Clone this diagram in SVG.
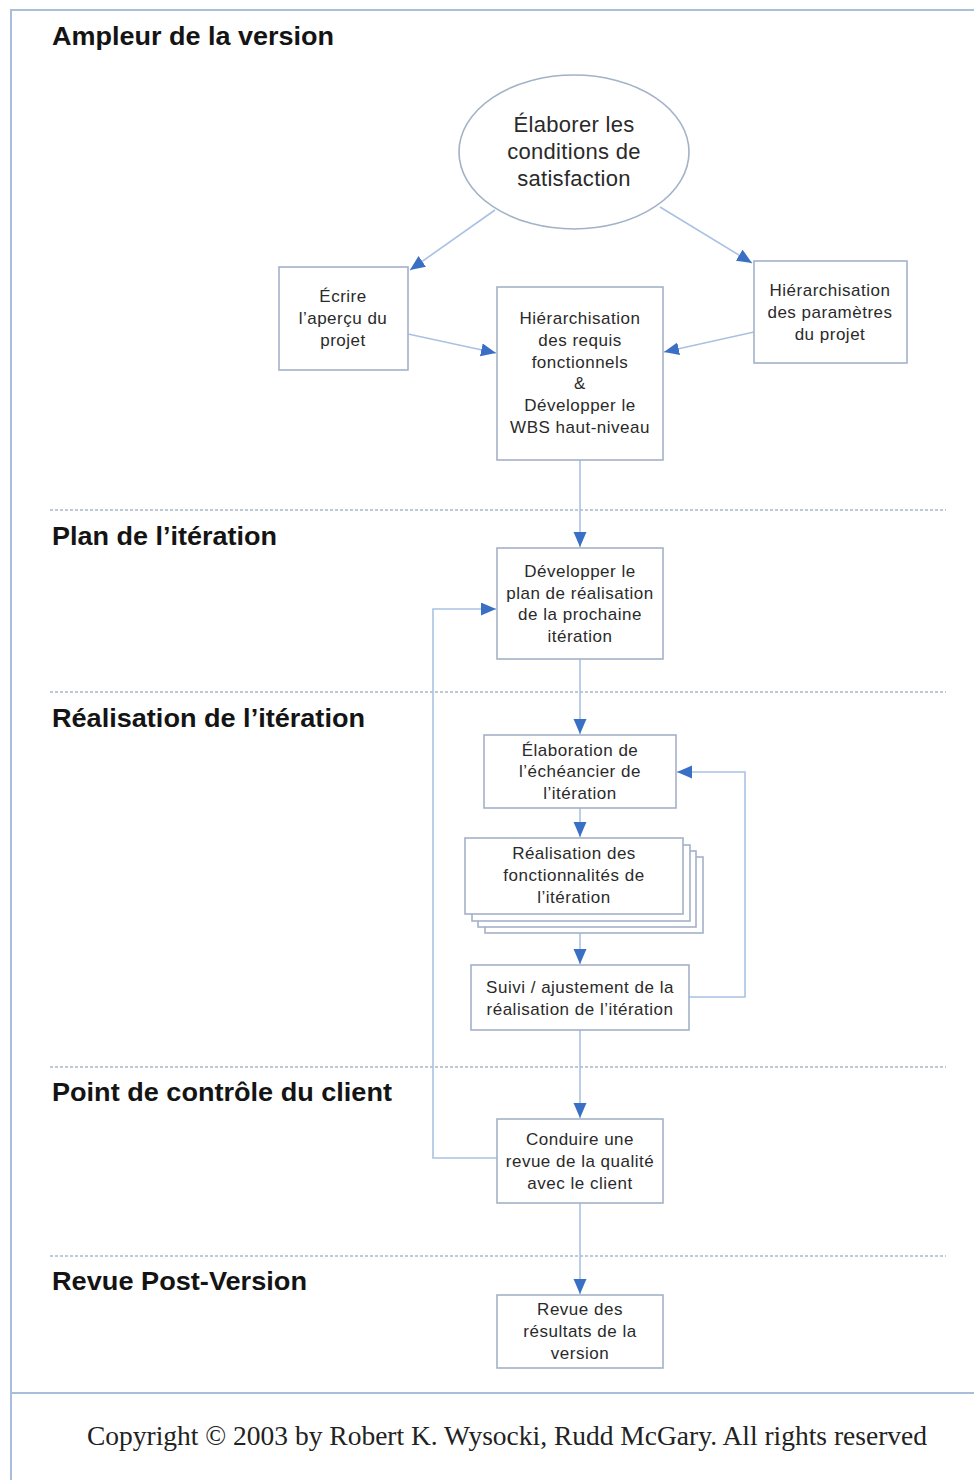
<svg xmlns="http://www.w3.org/2000/svg" width="974" height="1480" viewBox="0 0 974 1480">
<style>
.frame{stroke:#a9bedb;stroke-width:2;fill:none}
.sep{stroke:#aab6c8;stroke-width:1.5;stroke-dasharray:3,2;fill:none}
.h{font-family:"Liberation Sans",Arial,sans-serif;font-weight:bold;font-size:26px;fill:#141414}
.box{fill:#fff;stroke:#a3b2c8;stroke-width:1.6}
.t{font-family:"Liberation Sans",Arial,sans-serif;font-size:17px;letter-spacing:0.5px;fill:#2a2a2a;text-anchor:middle}
.te{font-family:"Liberation Sans",Arial,sans-serif;font-size:22px;letter-spacing:0.3px;fill:#2a2a2a;text-anchor:middle}
.c{stroke:#a9c2e4;stroke-width:1.6;fill:none}
.cp{font-family:"Liberation Serif","Times New Roman",serif;font-size:28px;fill:#222}
</style>
<defs>
<marker id="ah" markerUnits="userSpaceOnUse" markerWidth="16" markerHeight="14" refX="15" refY="6.5" orient="auto">
<path d="M0,0 L15,6.5 L0,13 z" fill="#3a6fc6"/>
</marker>
</defs>
<rect width="974" height="1480" fill="#fff"/>
<g id="frame">
<path class="frame" d="M11,1480 V10 H974"/>
<path class="frame" d="M11,1393 H974"/>
</g>
<g id="separators">
<line class="sep" x1="50" y1="510" x2="946" y2="510"/>
<line class="sep" x1="50" y1="692" x2="946" y2="692"/>
<line class="sep" x1="50" y1="1067" x2="946" y2="1067"/>
<line class="sep" x1="50" y1="1256" x2="946" y2="1256"/>
</g>
<g id="headings">
<text class="h" x="52" y="45" textLength="282" lengthAdjust="spacingAndGlyphs">Ampleur de la version</text>
<text class="h" x="52" y="545" textLength="225" lengthAdjust="spacingAndGlyphs">Plan de l’itération</text>
<text class="h" x="52" y="727" textLength="313" lengthAdjust="spacingAndGlyphs">Réalisation de l’itération</text>
<text class="h" x="52" y="1101" textLength="340" lengthAdjust="spacingAndGlyphs">Point de contrôle du client</text>
<text class="h" x="52" y="1290" textLength="255" lengthAdjust="spacingAndGlyphs">Revue Post-Version</text>
</g>
<g id="connectors">
<line class="c" x1="495" y1="210" x2="410" y2="270" marker-end="url(#ah)"/>
<line class="c" x1="660" y1="207" x2="752" y2="263" marker-end="url(#ah)"/>
<line class="c" x1="408" y1="334" x2="496" y2="353" marker-end="url(#ah)"/>
<line class="c" x1="754" y1="332" x2="664" y2="352" marker-end="url(#ah)"/>
<line class="c" x1="580" y1="460" x2="580" y2="547" marker-end="url(#ah)"/>
<line class="c" x1="580" y1="659" x2="580" y2="734" marker-end="url(#ah)"/>
<line class="c" x1="580" y1="808" x2="580" y2="837" marker-end="url(#ah)"/>
<line class="c" x1="580" y1="932" x2="580" y2="964" marker-end="url(#ah)"/>
<polyline class="c" points="689,997 745,997 745,772 677,772" marker-end="url(#ah)"/>
<line class="c" x1="580" y1="1030" x2="580" y2="1118" marker-end="url(#ah)"/>
<polyline class="c" points="497,1158 433,1158 433,609 496,609" marker-end="url(#ah)"/>
<line class="c" x1="580" y1="1203" x2="580" y2="1294" marker-end="url(#ah)"/>
</g>
<g id="n-conditions">
<ellipse class="box" cx="574" cy="152" rx="115" ry="77"/>
<text class="te" x="574" y="132">Élaborer les</text>
<text class="te" x="574" y="159">conditions de</text>
<text class="te" x="574" y="186">satisfaction</text>
</g>
<g id="n-apercu">
<rect class="box" x="279" y="267" width="129" height="103"/>
<text class="t" x="343" y="302">Écrire</text>
<text class="t" x="343" y="324">l’aperçu du</text>
<text class="t" x="343" y="346">projet</text>
</g>
<g id="n-requis">
<rect class="box" x="497" y="287" width="166" height="173"/>
<text class="t" x="580" y="324">Hiérarchisation</text>
<text class="t" x="580" y="346">des requis</text>
<text class="t" x="580" y="368">fonctionnels</text>
<text class="t" x="580" y="389">&amp;</text>
<text class="t" x="580" y="411">Développer le</text>
<text class="t" x="580" y="433">WBS haut-niveau</text>
</g>
<g id="n-parametres">
<rect class="box" x="754" y="261" width="153" height="102"/>
<text class="t" x="830" y="296">Hiérarchisation</text>
<text class="t" x="830" y="318">des paramètres</text>
<text class="t" x="830" y="340">du projet</text>
</g>
<g id="n-plan">
<rect class="box" x="497" y="548" width="166" height="111"/>
<text class="t" x="580" y="577">Développer le</text>
<text class="t" x="580" y="599">plan de réalisation</text>
<text class="t" x="580" y="620">de la prochaine</text>
<text class="t" x="580" y="642">itération</text>
</g>
<g id="n-echeancier">
<rect class="box" x="484" y="735" width="192" height="73"/>
<text class="t" x="580" y="756">Élaboration de</text>
<text class="t" x="580" y="777">l’échéancier de</text>
<text class="t" x="580" y="799">l’itération</text>
</g>
<g id="n-realisation">
<rect class="box" x="485" y="857" width="218" height="76"/>
<rect class="box" x="478" y="851" width="218" height="76"/>
<rect class="box" x="472" y="845" width="218" height="76"/>
<rect class="box" x="465" y="838" width="218" height="76"/>
<text class="t" x="574" y="859">Réalisation des</text>
<text class="t" x="574" y="881">fonctionnalités de</text>
<text class="t" x="574" y="903">l’itération</text>
</g>
<g id="n-suivi">
<rect class="box" x="471" y="965" width="218" height="65"/>
<text class="t" x="580" y="993">Suivi / ajustement de la</text>
<text class="t" x="580" y="1015">réalisation de l’itération</text>
</g>
<g id="n-revue-qualite">
<rect class="box" x="497" y="1119" width="166" height="84"/>
<text class="t" x="580" y="1145">Conduire une</text>
<text class="t" x="580" y="1167">revue de la qualité</text>
<text class="t" x="580" y="1189">avec le client</text>
</g>
<g id="n-revue-resultats">
<rect class="box" x="497" y="1295" width="166" height="73"/>
<text class="t" x="580" y="1315">Revue des</text>
<text class="t" x="580" y="1337">résultats de la</text>
<text class="t" x="580" y="1359">version</text>
</g>
<text class="cp" x="87" y="1445" textLength="840" lengthAdjust="spacingAndGlyphs">Copyright © 2003 by Robert K. Wysocki, Rudd McGary. All rights reserved</text>
</svg>
